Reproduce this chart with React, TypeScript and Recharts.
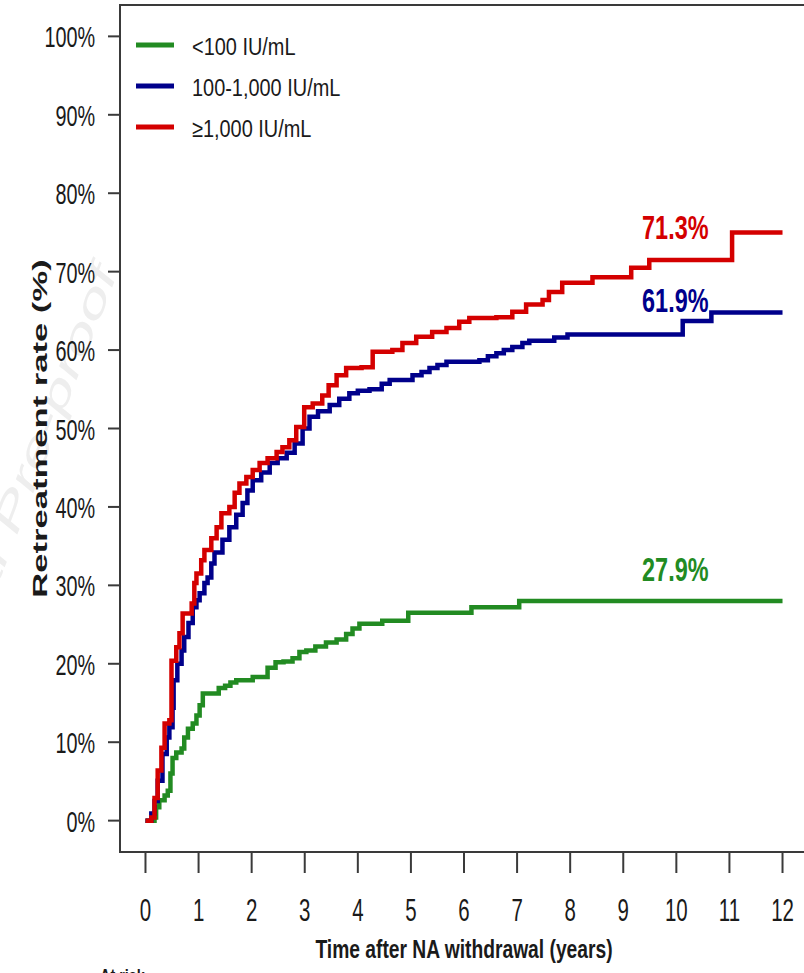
import { Legend, Line, LineChart, ReferenceArea, ReferenceDot, XAxis, YAxis } from "recharts"

// Kaplan-Meier style step curves (time in years, rate in %)
const lowT = [0, 0.14, 0.17, 0.2, 0.26, 0.36, 0.42, 0.47, 0.51, 0.58, 0.68, 0.73, 0.8, 0.89, 0.96, 1.02, 1.08, 1.38, 1.5, 1.6, 1.71, 2.02, 2.3, 2.45, 2.6, 2.77, 2.9, 3.03, 3.2, 3.4, 3.6, 3.78, 3.9, 4.03, 4.46, 4.95, 6.14, 7.04, 12]
const lowV = [0, 0, 0.4, 1.7, 2.6, 3.2, 3.8, 6.0, 8.0, 8.7, 9.2, 10.6, 11.7, 12.4, 13.4, 14.7, 16.2, 16.9, 17.2, 17.6, 17.9, 18.3, 19.5, 20.2, 20.3, 20.7, 21.5, 21.7, 22.2, 22.7, 23.1, 23.8, 24.5, 25.1, 25.5, 26.5, 27.2, 28.0, 28.0]

const midT = [0, 0.1, 0.11, 0.17, 0.23, 0.32, 0.4, 0.45, 0.51, 0.53, 0.6, 0.68, 0.73, 0.81, 0.89, 0.96, 1.02, 1.11, 1.17, 1.24, 1.3, 1.45, 1.58, 1.71, 1.83, 1.92, 2.02, 2.18, 2.34, 2.49, 2.66, 2.81, 2.96, 3.09, 3.25, 3.47, 3.65, 3.84, 4.0, 4.22, 4.45, 4.6, 5.03, 5.2, 5.35, 5.5, 5.67, 6.29, 6.45, 6.61, 6.75, 6.91, 7.1, 7.23, 7.7, 7.95, 10.12, 10.66, 12]
const midV = [0, 0, 0.9, 2.5, 5.1, 8.5, 10.6, 11.9, 14.4, 17.9, 20.0, 21.7, 23.4, 25.2, 27.2, 28.1, 29.0, 30.3, 31.0, 32.8, 34.2, 35.8, 37.4, 39.0, 40.5, 42.1, 43.4, 44.4, 45.6, 46.2, 46.9, 48.1, 50.0, 51.5, 52.2, 53.0, 53.8, 54.5, 54.8, 55.0, 55.7, 56.2, 56.8, 57.2, 57.7, 58.1, 58.5, 58.7, 59.2, 59.6, 60.0, 60.4, 60.9, 61.2, 61.6, 62.0, 63.7, 64.8, 64.8]

const highT = [0, 0.1, 0.11, 0.17, 0.23, 0.3, 0.36, 0.45, 0.49, 0.58, 0.64, 0.7, 0.87, 0.92, 0.96, 1.05, 1.11, 1.24, 1.34, 1.43, 1.58, 1.68, 1.77, 1.9, 2.02, 2.15, 2.3, 2.47, 2.58, 2.71, 2.84, 2.99, 3.15, 3.33, 3.45, 3.6, 3.78, 4.07, 4.28, 4.65, 4.84, 5.1, 5.4, 5.67, 5.91, 6.1, 6.61, 6.91, 7.17, 7.48, 7.6, 7.85, 8.42, 9.15, 9.49, 11.05, 12]
const highV = [0, 0, 0.4, 2.9, 6.4, 9.3, 12.4, 12.8, 20.4, 22.1, 23.9, 26.4, 27.7, 30.3, 31.5, 33.2, 34.5, 36.0, 37.4, 39.2, 40.0, 41.8, 43.0, 43.8, 44.7, 45.6, 46.2, 47.0, 47.6, 48.5, 50.2, 52.7, 53.2, 54.2, 55.5, 56.8, 57.7, 57.8, 59.8, 60.0, 60.9, 61.7, 62.3, 62.8, 63.6, 64.1, 64.2, 64.9, 65.8, 66.4, 67.4, 68.6, 69.3, 70.5, 71.5, 75.0, 75.0]

const seriesNames = ["<100 IU/mL", "100-1,000 IU/mL", "≥1,000 IU/mL"]
const endLabels = ["27.9%", "61.9%", "71.3%"]
const yearTicks = [0, 1, 2, 3, 4, 5, 6, 7, 8, 9, 10, 11, 12]
const pctTicks = [0, 10, 20, 30, 40, 50, 60, 70, 80, 90, 100]

const COLORS = ["#228B22", "#00008B", "#D40000"]
const FONT = "'Liberation Sans', Arial, Helvetica, sans-serif"
const INK = "#1a1a1a"
const FRAME = "#3a3a3a"

// where the end-of-curve percentages sit (data coords of text baseline centre)
const labelSpots = [
  { x: 9.98, y: 30.6 },
  { x: 9.98, y: 64.9 },
  { x: 9.98, y: 74.2 },
]

const toPoints = (ts: number[], vs: number[]) => ts.map((t, i) => ({ t, v: vs[i] }))
const lowData = toPoints(lowT, lowV)
const midData = toPoints(midT, midV)
const highData = toPoints(highT, highV)

const XTick = (props: any) => {
  const { x, y, payload } = props
  return (
    <text transform={`translate(${x},${y + 46}) scale(0.66,1)`} textAnchor="middle" fontSize={31} fontFamily={FONT} fill={INK}>
      {payload.value}
    </text>
  )
}

const YTick = (props: any) => {
  const { x, y, payload } = props
  return (
    <text transform={`translate(${x - 11},${y + 11}) scale(0.66,1)`} textAnchor="end" fontSize={30} fontFamily={FONT} fill={INK}>
      {payload.value}%
    </text>
  )
}

const XTitle = (props: any) => {
  const vb = props.viewBox || { x: 120, y: 852, width: 688 }
  return (
    <text transform={`translate(${vb.x + vb.width / 2},${vb.y + 106}) scale(0.77,1)`} textAnchor="middle" fontSize={25} fontWeight="bold" fontFamily={FONT} fill={INK}>
      Time after NA withdrawal (years)
    </text>
  )
}

const YTitle = (props: any) => {
  const vb = props.viewBox || { x: 0, y: 5, height: 847 }
  return (
    <text transform={`translate(40,${vb.y + vb.height / 2}) rotate(-90) scale(1.73,1)`} textAnchor="middle" dominantBaseline="central" fontSize={20} fontWeight="bold" fontFamily={FONT} fill={INK}>
      Retreatment rate (%)
    </text>
  )
}

const endLabel = (text: string, color: string) => (props: any) => {
  const vb = props.viewBox
  return (
    <text transform={`translate(${vb.x},${vb.y}) scale(0.71,1)`} textAnchor="middle" fontSize={33} fontWeight="bold" fontFamily={FONT} fill={color}>
      {text}
    </text>
  )
}

const LegendBox = (props: any) => {
  const items = [...(props.payload || [])].sort(
    (a: any, b: any) => seriesNames.indexOf(a.value) - seriesNames.indexOf(b.value)
  )
  return (
    <svg width={400} height={160} style={{ display: "block" }}>
      {items.map((item: any, i: number) => {
        const cy = 45 + i * 41
        return (
          <g key={item.value}>
            <line x1={136} x2={174} y1={cy} y2={cy} stroke={item.color} strokeWidth={5} />
            <text transform={`translate(192,${cy + 10}) scale(0.83,1)`} fontSize={24} fontFamily={FONT} fill={INK}>
              {item.value}
            </text>
          </g>
        )
      })}
    </svg>
  )
}

export default function App() {
  return (
    <div style={{ position: "absolute", left: 0, top: 0, width: 804, height: 973, overflow: "hidden", background: "#fff" }}>
      <svg width={804} height={973} style={{ position: "absolute", left: 0, top: 0 }}>
        <text transform="translate(118,272) rotate(-69) scale(1.7,1)" textAnchor="end" fontSize={40} fontStyle="italic" fontFamily={FONT} fill="#eeeeee">
          Journal Pre-proof
        </text>
        <text transform="translate(100,982) scale(0.8,1)" fontSize={18} fontWeight="bold" fontFamily={FONT} fill={INK}>
          At risk
        </text>
      </svg>
      <div style={{ position: "absolute", left: 0, top: 0 }}>
        <LineChart width={808} height={973} margin={{ top: 5, right: 0, bottom: 0, left: 0 }}>
          <XAxis
            type="number"
            dataKey="t"
            domain={[-0.48, 12.48]}
            ticks={yearTicks}
            interval={0}
            height={121}
            tickSize={21}
            axisLine={false}
            tickLine={{ stroke: FRAME, strokeWidth: 2 }}
            tick={<XTick />}
            label={XTitle}
          />
          <YAxis
            type="number"
            domain={[-4, 104]}
            ticks={pctTicks}
            interval={0}
            width={120}
            tickSize={12}
            axisLine={false}
            tickLine={{ stroke: FRAME, strokeWidth: 2 }}
            tick={<YTick />}
            label={YTitle}
          />
          <ReferenceArea x1={-0.48} x2={12.48} y1={-4} y2={104} fill="none" stroke={FRAME} strokeWidth={2} />
          <Legend
            layout="horizontal"
            verticalAlign="middle"
            align="center"
            itemSorter={null as any}
            content={<LegendBox />}
            wrapperStyle={{ position: "absolute", left: 0, top: 0, width: 400, height: 160 }}
          />
          <Line data={lowData} dataKey="v" name={seriesNames[0]} type="stepAfter" stroke={COLORS[0]} strokeWidth={4.5} dot={false} activeDot={false} isAnimationActive={false} />
          <Line data={midData} dataKey="v" name={seriesNames[1]} type="stepAfter" stroke={COLORS[1]} strokeWidth={4.5} dot={false} activeDot={false} isAnimationActive={false} />
          <Line data={highData} dataKey="v" name={seriesNames[2]} type="stepAfter" stroke={COLORS[2]} strokeWidth={4.5} dot={false} activeDot={false} isAnimationActive={false} />
          {labelSpots.map((s, i) => (
            <ReferenceDot key={i} x={s.x} y={s.y} r={0} fill="none" stroke="none" label={endLabel(endLabels[i], COLORS[i])} />
          ))}
        </LineChart>
      </div>
    </div>
  )
}
